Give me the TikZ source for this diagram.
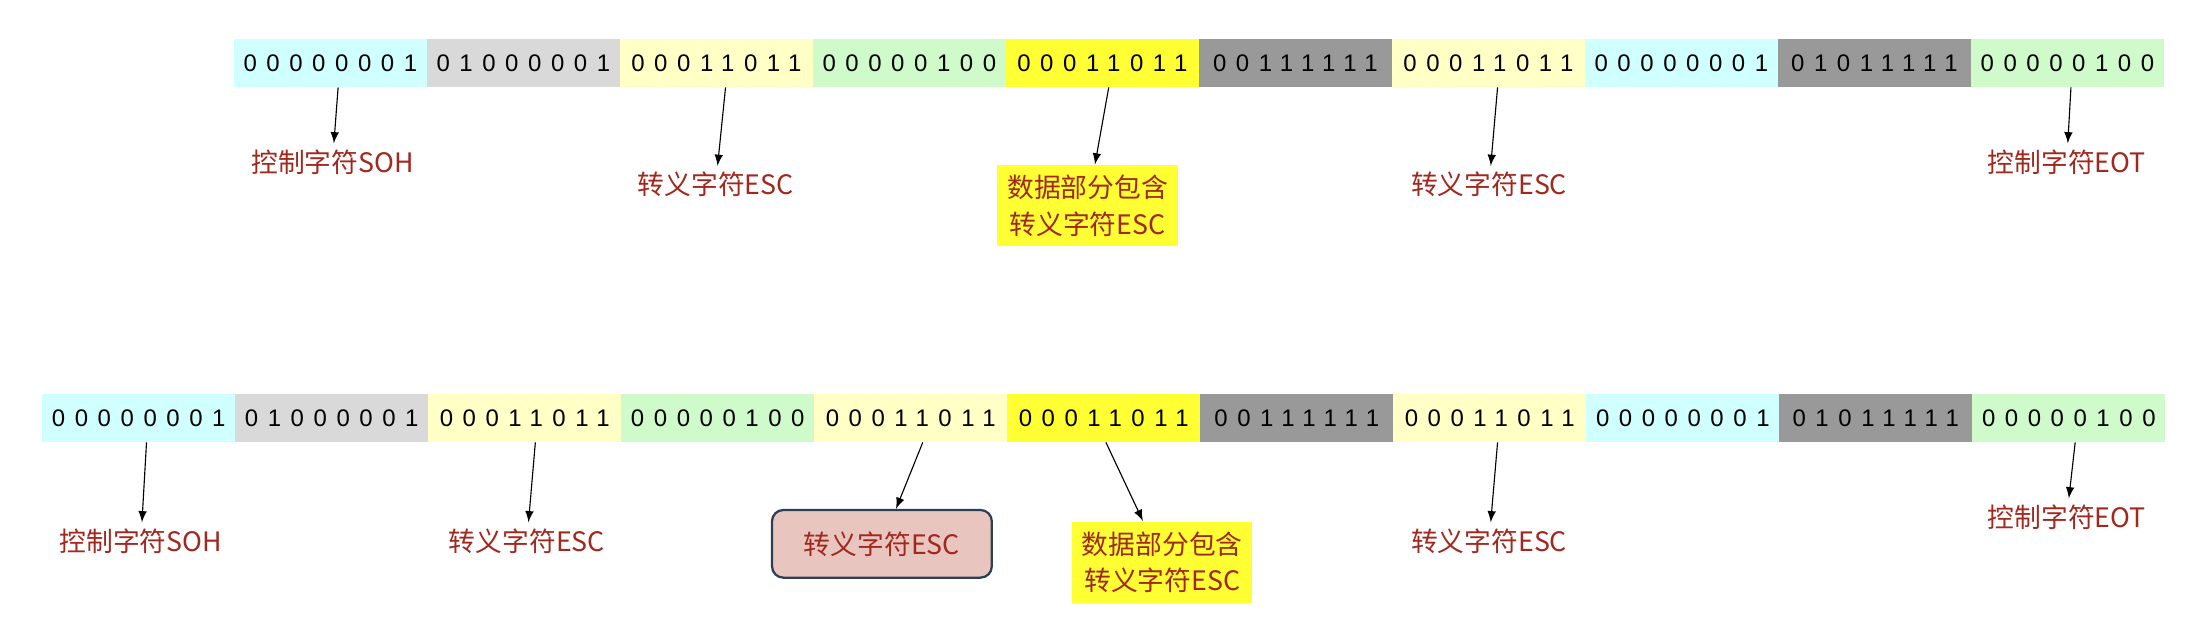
\documentclass[tikz,border=0pt]{standalone}
\usepackage{fontspec}
\setmainfont{Noto Sans CJK SC}
\newfontfamily\bitfont[LetterSpace=40]{Liberation Sans}
\usetikzlibrary{arrows}
\definecolor{soh}{HTML}{CFFFFF}
\definecolor{hdr}{HTML}{D9D9D9}
\definecolor{esc}{HTML}{FFFFC6}
\definecolor{len}{HTML}{CFFACA}
\definecolor{dat}{HTML}{FFFF33}
\definecolor{chk}{HTML}{999999}
\definecolor{lbl}{HTML}{A0281E}
\definecolor{tipbox}{HTML}{E8C6BF}
\definecolor{tipline}{HTML}{2E3E55}

\begin{document}
\begin{tikzpicture}[x=0.5pt,y=-0.5pt,>=latex]
  \tikzstyle{cell}=[minimum width=68.5pt,minimum height=17pt,inner sep=0pt,font=\bitfont\fontsize{8.5}{10}\selectfont]
  \tikzstyle{note}=[text=lbl,font=\fontsize{9.5}{13}\selectfont,align=center,inner sep=2pt]
  \tikzstyle{hl}=[note,fill=dat,inner sep=3.5pt]
  \useasboundingbox (0,0) rectangle (1568,452);

% original frame
\foreach \b/\c [count=\i from 0] in {00000001/soh,01000001/hdr,00011011/esc,00000100/len,00011011/dat,00111111/chk,00011011/esc,00000001/soh,01011111/chk,00000100/len}
  \node [cell,fill=\c] (t\i) at ({166+137*(\i+0.5)},45) {\b};

\node [note] (ta) at (236,115) {控制字符SOH};
\node [note] (tb) at (508,131) {转义字符ESC};
\node [hl] (tc) at (772,146) {数据部分包含\\转义字符ESC};
\node [note] (td) at (1057,131) {转义字符ESC};
\node [note] (te) at (1467,115) {控制字符EOT};
\draw [->] (240,62) -- (ta);
\draw [->] (515,62) -- (tb);
\draw [->] (787,62) -- (tc);
\draw [->] (1063,62) -- (td);
\draw [->] (1470,62) -- (te);

% stuffed frame
\foreach \b/\c [count=\i from 0] in {00000001/soh,01000001/hdr,00011011/esc,00000100/len,00011011/esc,00011011/dat,00111111/chk,00011011/esc,00000001/soh,01011111/chk,00000100/len}
  \node [cell,fill=\c] (b\i) at ({30+137*(\i+0.5)},297) {\b};

\node [note] (ba) at (100,384) {控制字符SOH};
\node [note] (bb) at (374,384) {转义字符ESC};
\node [note,fill=tipbox,draw=tipline,line width=0.8pt,rounded corners=4pt,minimum width=78pt,minimum height=24pt] (bc) at (626,386) {转义字符ESC};
\node [hl] (bd) at (825,399) {数据部分包含\\转义字符ESC};
\node [note] (be) at (1057,384) {转义字符ESC};
\node [note] (bf) at (1467,367) {控制字符EOT};
\draw [->] (104,314) -- (ba);
\draw [->] (380,314) -- (bb);
\draw [->] (655,314) -- (bc);
\draw [->] (785,314) -- (bd);
\draw [->] (1063,314) -- (be);
\draw [->] (1473,314) -- (bf);
\end{tikzpicture}
\end{document}
